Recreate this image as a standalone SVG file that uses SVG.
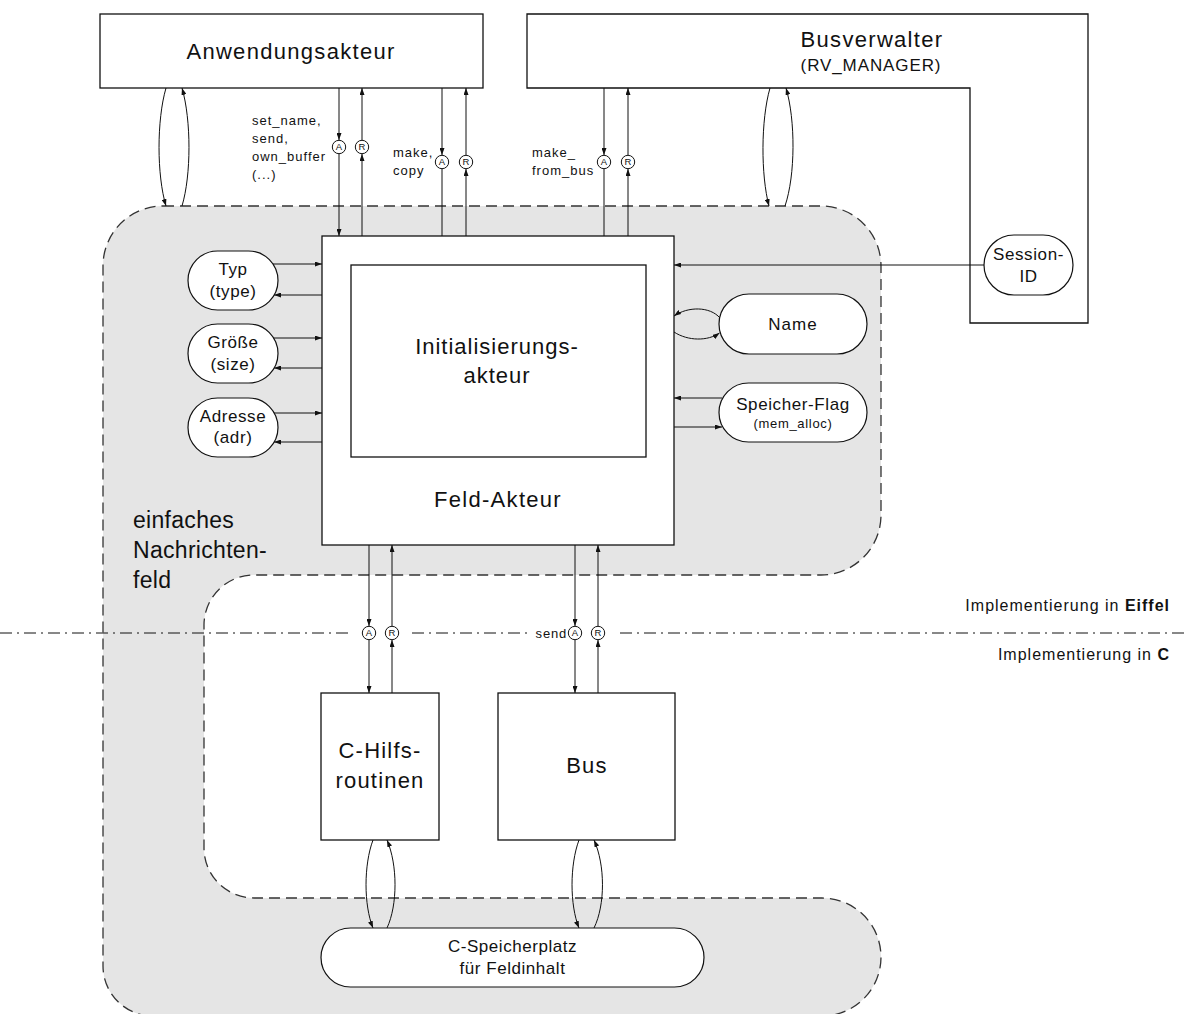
<svg xmlns="http://www.w3.org/2000/svg" width="1186" height="1014" viewBox="0 0 1186 1014">
  <style>
    text { font-family: "Liberation Sans", Arial, sans-serif; fill: #111; }
    .box { fill: #fff; stroke: #111; stroke-width: 1.3; }
    .pill { fill: #fff; stroke: #111; stroke-width: 1.2; }
    .ln { fill: none; stroke: #111; stroke-width: 1; }
    .arr { fill: none; stroke: #111; stroke-width: 1; marker-end: url(#ah); }
    .port { fill: #fff; stroke: #111; stroke-width: 1; }
    .pl { font-size: 9.5px; text-anchor: middle; }
    .big { font-size: 22px; letter-spacing: 1.3px; text-anchor: middle; }
    .mid { font-size: 17px; letter-spacing: 0.6px; text-anchor: middle; }
    .sm { font-size: 13px; letter-spacing: 1px; }
    .impl { font-size: 16px; letter-spacing: 1px; text-anchor: end; }
  </style>
  <defs>
    <marker id="ah" viewBox="0 0 7 5" refX="7" refY="2.5" markerWidth="7" markerHeight="5" orient="auto" markerUnits="userSpaceOnUse">
      <path d="M0,0 L7,2.5 L0,5 z" fill="#111"/>
    </marker>
  </defs>

  <!-- grey area: einfaches Nachrichtenfeld -->
  <g id="region">
    <path d="M163,206 H821 A60,60 0 0 1 881,266 V515 A60,60 0 0 1 821,575 H254 A50,50 0 0 0 204,625 V848 A50,50 0 0 0 254,898 H822 A59,59 0 0 1 881,957 A59,59 0 0 1 822,1016 H153 A50,50 0 0 1 103,966 V266 A60,60 0 0 1 163,206 Z"
          fill="#e5e5e5" stroke="#333" stroke-width="1.3" stroke-dasharray="11 6"/>
    <text x="133" y="528" style="font-size:23px;letter-spacing:0.3px">einfaches</text>
    <text x="133" y="558" style="font-size:23px;letter-spacing:0.3px">Nachrichten-</text>
    <text x="133" y="588" style="font-size:23px;letter-spacing:0.3px">feld</text>
  </g>

  <!-- Busverwalter sits below the Session-ID link, which crosses its inner edge -->
  <g id="busverwalter">
    <path class="box" d="M527,14 H1088 V323 H970 V88 H527 Z"/>
    <text class="big" x="872" y="47">Busverwalter</text>
    <text x="871" y="71" style="font-size:17px;letter-spacing:0.9px;text-anchor:middle">(RV_MANAGER)</text>
  </g>

  <!-- Eiffel / C boundary -->
  <g id="boundary">
    <path class="ln" d="M0,633 H352 M412,633 H528 M620,633 H1186" stroke-dasharray="12 5 2 5"/>
    <text class="impl" x="1170" y="611">Implementierung in <tspan font-weight="bold">Eiffel</tspan></text>
    <text class="impl" x="1170" y="660">Implementierung in <tspan font-weight="bold">C</tspan></text>
  </g>

  <g id="connectors">
    <!-- Anwendungsakteur <-> Nachrichtenfeld -->
    <path class="arr" d="M166,88 C156.7,120 156.7,175 166,206"/>
    <path class="arr" d="M182,206 C191.3,175 191.3,120 182,88"/>
    <!-- Busverwalter <-> Nachrichtenfeld -->
    <path class="arr" d="M770,88 C760.8,120 760.8,175 769,206"/>
    <path class="arr" d="M785,206 C795.5,175 795.5,120 786,88"/>

    <!-- set_name, send, own_buffer -->
    <path class="arr" d="M339,88 V140"/>
    <path class="arr" d="M339,154 V236"/>
    <path class="arr" d="M362,236 V154"/>
    <path class="arr" d="M362,140 V88"/>
    <!-- make, copy -->
    <path class="arr" d="M442,88 V155"/>
    <path class="arr" d="M442,169 V265"/>
    <path class="arr" d="M466,265 V169"/>
    <path class="arr" d="M466,155 V88"/>
    <!-- make_from_bus -->
    <path class="arr" d="M604,88 V155"/>
    <path class="arr" d="M604,169 V265"/>
    <path class="arr" d="M628,265 V169"/>
    <path class="arr" d="M628,155 V88"/>

    <!-- attributes -->
    <path class="arr" d="M273,264 H322"/>
    <path class="arr" d="M351,295 H274"/>
    <path class="arr" d="M274,338 H322"/>
    <path class="arr" d="M351,368 H274"/>
    <path class="arr" d="M274,413 H322"/>
    <path class="arr" d="M351,442 H274"/>

    <path class="arr" d="M984,265 H674"/>
    <path class="arr" d="M720,318 C710,306.3 688,306.3 674,316"/>
    <path class="arr" d="M674,332 C688,341.2 708,341.2 719.5,333"/>
    <path class="arr" d="M722,398 H674"/>
    <path class="arr" d="M646,427 H722"/>

    <!-- Feld-Akteur <-> C-Hilfsroutinen -->
    <path class="arr" d="M369,545 V626"/>
    <path class="arr" d="M369,640 V693"/>
    <path class="arr" d="M392,693 V640"/>
    <path class="arr" d="M392,626 V545"/>
    <!-- Feld-Akteur <-> Bus -->
    <path class="arr" d="M575,545 V626"/>
    <path class="arr" d="M575,640 V693"/>
    <path class="arr" d="M598,693 V640"/>
    <path class="arr" d="M598,626 V545"/>

    <!-- C-Hilfsroutinen / Bus <-> C-Speicherplatz -->
    <path class="arr" d="M373,840 C363.7,865 363.7,905 373,928"/>
    <path class="arr" d="M387,928 C397.7,905 397.7,865 387,840"/>
    <path class="arr" d="M579,840 C569.7,865 569.7,905 579,928"/>
    <path class="arr" d="M594,928 C605.3,905 605.3,865 594,840"/>

    <!-- A / R ports -->
    <g>
      <circle class="port" cx="339" cy="147" r="6.7"/><text class="pl" x="339" y="150.4">A</text>
      <circle class="port" cx="362" cy="147" r="6.7"/><text class="pl" x="362" y="150.4">R</text>
      <circle class="port" cx="442" cy="162" r="6.7"/><text class="pl" x="442" y="165.4">A</text>
      <circle class="port" cx="466" cy="162" r="6.7"/><text class="pl" x="466" y="165.4">R</text>
      <circle class="port" cx="604" cy="162" r="6.7"/><text class="pl" x="604" y="165.4">A</text>
      <circle class="port" cx="628" cy="162" r="6.7"/><text class="pl" x="628" y="165.4">R</text>
      <circle class="port" cx="369" cy="633" r="6.7"/><text class="pl" x="369" y="636.4">A</text>
      <circle class="port" cx="392" cy="633" r="6.7"/><text class="pl" x="392" y="636.4">R</text>
      <circle class="port" cx="575" cy="633" r="6.7"/><text class="pl" x="575" y="636.4">A</text>
      <circle class="port" cx="598" cy="633" r="6.7"/><text class="pl" x="598" y="636.4">R</text>
    </g>

    <!-- message labels -->
    <text class="sm" x="252" y="125">set_name,</text>
    <text class="sm" x="252" y="143">send,</text>
    <text class="sm" x="252" y="161">own_buffer</text>
    <text class="sm" x="252" y="179">(...)</text>
    <text class="sm" x="393" y="157">make,</text>
    <text class="sm" x="393" y="175">copy</text>
    <text class="sm" x="532" y="157">make_</text>
    <text class="sm" x="532" y="175">from_bus</text>
    <text class="sm" x="567" y="638" text-anchor="end" style="letter-spacing:0.8px">send</text>
  </g>

  <g id="anwendungsakteur">
    <rect class="box" x="100" y="14" width="383" height="74"/>
    <text class="big" x="291" y="59">Anwendungsakteur</text>
  </g>

  <g id="session-id">
    <rect class="pill" x="984" y="235" width="89" height="60" rx="30" ry="30"/>
    <text class="mid" x="1028.5" y="260">Session-</text>
    <text class="mid" x="1028.5" y="282">ID</text>
  </g>

  <g id="feld-akteur">
    <rect class="box" x="322" y="236" width="352" height="309"/>
    <text class="big" x="498" y="507">Feld-Akteur</text>
  </g>

  <g id="initialisierungsakteur">
    <rect class="box" x="351" y="265" width="295" height="192"/>
    <text class="big" x="497" y="354" style="letter-spacing:1px">Initialisierungs-</text>
    <text class="big" x="497" y="383" style="letter-spacing:1px">akteur</text>
  </g>

  <g id="typ">
    <rect class="pill" x="188" y="251" width="90" height="59" rx="29.5" ry="29.5"/>
    <text class="mid" x="233" y="275">Typ</text>
    <text class="mid" x="233" y="297">(type)</text>
  </g>

  <g id="groesse">
    <rect class="pill" x="188" y="324" width="90" height="59" rx="29.5" ry="29.5"/>
    <text class="mid" x="233" y="348">Größe</text>
    <text class="mid" x="233" y="370">(size)</text>
  </g>

  <g id="adresse">
    <rect class="pill" x="188" y="398" width="90" height="59" rx="29.5" ry="29.5"/>
    <text class="mid" x="233" y="422">Adresse</text>
    <text class="mid" x="233" y="443">(adr)</text>
  </g>

  <g id="name">
    <rect class="pill" x="719" y="294" width="148" height="60" rx="30" ry="30"/>
    <text class="mid" x="793" y="330" style="letter-spacing:1px">Name</text>
  </g>

  <g id="speicher-flag">
    <rect class="pill" x="719" y="383" width="148" height="59" rx="29.5" ry="29.5"/>
    <text class="mid" x="793" y="410">Speicher-Flag</text>
    <text x="793" y="428" style="font-size:13px;letter-spacing:0.7px;text-anchor:middle">(mem_alloc)</text>
  </g>

  <g id="c-hilfsroutinen">
    <rect class="box" x="321" y="693" width="118" height="147"/>
    <text class="big" x="380" y="758" style="letter-spacing:1.2px">C-Hilfs-</text>
    <text class="big" x="380" y="788" style="letter-spacing:1.2px">routinen</text>
  </g>

  <g id="bus">
    <rect class="box" x="498" y="693" width="177" height="147"/>
    <text class="big" x="587" y="773" style="letter-spacing:1.2px">Bus</text>
  </g>

  <g id="c-speicherplatz">
    <rect class="pill" x="321" y="928" width="383" height="59" rx="29.5" ry="29.5"/>
    <text class="mid" x="512.5" y="952" style="letter-spacing:0.55px">C-Speicherplatz</text>
    <text class="mid" x="512.5" y="974" style="letter-spacing:0.55px">für Feldinhalt</text>
  </g>
</svg>
